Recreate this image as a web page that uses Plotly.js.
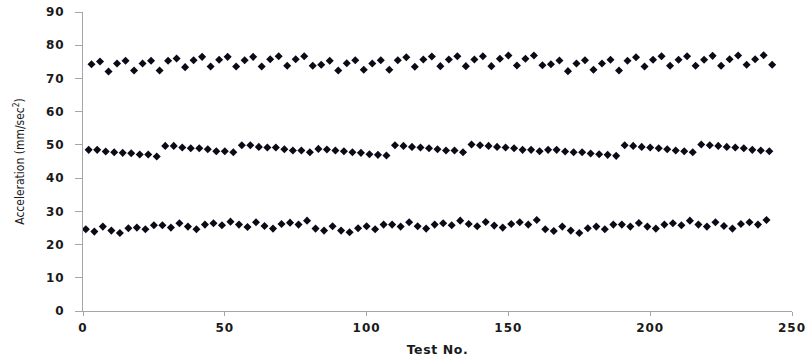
<!DOCTYPE html>
<html>
<head>
<meta charset="utf-8">
<script src="https://cdn.plot.ly/plotly-3.0.1.min.js"></script>
<style>
  html, body { margin: 0; padding: 0; background: #ffffff; }
  #chart { width: 806px; height: 359px; }
  /* wide, heavy tick numerals */
  #chart .xtick text, #chart .ytick text { letter-spacing: 1px; }
  #chart .xtitle { letter-spacing: 0.6px; }
</style>
</head>
<body>
<div id="chart"></div>
<script>
// Test numbers for each of the three interleaved measurement series
const testNoLow = [1,4,7,10,13,16,19,22,25,28,31,34,37,40,43,46,49,52,55,58,61,64,67,70,73,76,79,
  82,85,88,91,94,97,100,103,106,109,112,115,118,121,124,127,130,133,136,139,142,145,148,151,154,157,160,
  163,166,169,172,175,178,181,184,187,190,193,196,199,202,205,208,211,214,217,220,223,226,229,232,235,238,241];
const testNoMid = [2,5,8,11,14,17,20,23,26,29,32,35,38,41,44,47,50,53,56,59,62,65,68,71,74,77,80,
  83,86,89,92,95,98,101,104,107,110,113,116,119,122,125,128,131,134,137,140,143,146,149,152,155,158,161,
  164,167,170,173,176,179,182,185,188,191,194,197,200,203,206,209,212,215,218,221,224,227,230,233,236,239,242];
const testNoHigh = [3,6,9,12,15,18,21,24,27,30,33,36,39,42,45,48,51,54,57,60,63,66,69,72,75,78,81,
  84,87,90,93,96,99,102,105,108,111,114,117,120,123,126,129,132,135,138,141,144,147,150,153,156,159,162,
  165,168,171,174,177,180,183,186,189,192,195,198,201,204,207,210,213,216,219,222,225,228,231,234,237,240,243];

// Acceleration readings (mm/sec^2)
const accelLow = [
  24.6,23.9,25.4,24.2,23.5,24.9,25.1,24.6,25.8,25.8,25.1,26.4,25.4,24.6,26.0,26.4,25.8,26.9,26.0,25.3,26.7,25.6,24.8,26.2,26.6,26.0,27.2,
  24.8,24.2,25.5,24.2,23.7,24.9,25.5,24.6,26.0,26.0,25.4,26.7,25.5,24.8,26.0,26.4,25.8,27.2,26.2,25.5,26.8,25.7,25.1,26.2,26.7,26.0,27.4,
  24.6,24.1,25.4,24.2,23.5,24.9,25.4,24.6,26.0,26.0,25.4,26.5,25.4,24.8,26.0,26.4,25.8,27.2,26.0,25.4,26.7,25.6,24.8,26.2,26.7,26.0,27.4];
const accelMid = [
  48.5,48.5,48.0,47.8,47.6,47.5,47.1,47.1,46.5,49.7,49.7,49.2,49.0,49.0,48.7,48.1,48.1,47.8,49.9,49.9,49.4,49.2,49.2,48.7,48.3,48.3,47.8,
  48.8,48.6,48.3,48.1,47.8,47.6,47.2,47.0,46.8,49.9,49.7,49.4,49.2,49.0,48.7,48.3,48.3,47.8,50.1,49.9,49.7,49.4,49.2,49.0,48.5,48.5,48.1,
  48.5,48.5,48.0,47.8,47.8,47.4,47.2,47.0,46.7,49.9,49.7,49.4,49.2,49.0,48.7,48.3,48.1,47.8,50.1,49.9,49.7,49.4,49.2,49.0,48.5,48.3,48.1];
const accelHigh = [
  74.3,75.1,72.1,74.5,75.3,72.4,74.5,75.3,72.4,75.3,76.0,73.4,75.5,76.5,73.6,75.6,76.5,73.6,75.5,76.5,73.6,75.8,76.7,73.8,75.8,76.7,73.8,
  74.1,75.3,72.4,74.6,75.5,72.6,74.5,75.5,72.6,75.5,76.4,73.5,75.7,76.6,73.7,75.7,76.7,73.7,75.7,76.7,73.7,75.9,76.9,73.9,75.9,76.9,74.0,
  74.3,75.4,72.2,74.5,75.5,72.6,74.5,75.6,72.4,75.3,76.4,73.6,75.6,76.7,73.8,75.6,76.7,73.8,75.6,76.8,73.8,75.8,76.9,74.1,75.8,77.0,74.1];

const xTickVals = [0, 50, 100, 150, 200, 250];
const yTickVals = [0, 10, 20, 30, 40, 50, 60, 70, 80, 90];

const markerStyle = { symbol: 'diamond', size: 6.2, color: '#0b0b18', line: { width: 0 } };

function series(x, y) {
  return { x: x, y: y, type: 'scatter', mode: 'markers', marker: markerStyle, hoverinfo: 'x+y' };
}

const data = [
  series(testNoLow, accelLow),
  series(testNoMid, accelMid),
  series(testNoHigh, accelHigh)
];

const tickFont = { family: 'DejaVu Sans, Verdana, sans-serif', size: 12, color: '#1a1a1a', weight: 'bold' };

const layout = {
  width: 806,
  height: 359,
  margin: { l: 83, r: 14, t: 12, b: 48 },
  paper_bgcolor: '#ffffff',
  plot_bgcolor: '#ffffff',
  showlegend: false,
  xaxis: {
    range: [0, 250],
    tickvals: xTickVals,
    ticks: 'outside',
    ticklen: 4,
    tickcolor: '#a6a6a6',
    showline: true,
    linecolor: '#a6a6a6',
    linewidth: 1,
    showgrid: false,
    zeroline: false,
    tickfont: tickFont,
    ticklabelstandoff: 2,
    title: { text: '<b>Test No.</b>', font: { family: 'DejaVu Sans, Verdana, sans-serif', size: 12.5, color: '#1a1a1a' }, standoff: 10 }
  },
  yaxis: {
    range: [0, 90],
    tickvals: yTickVals,
    ticks: 'outside',
    ticklen: 7,
    tickcolor: '#a6a6a6',
    showline: true,
    linecolor: '#a6a6a6',
    linewidth: 1,
    showgrid: false,
    zeroline: false,
    tickfont: tickFont,
    ticklabelstandoff: 8,
    title: { text: 'Acceleration (mm/sec<sup>2</sup>)', font: { family: 'Liberation Sans Narrow, DejaVu Sans Condensed, sans-serif', size: 12, color: '#1a1a1a' }, standoff: 20 }
  }
};

Plotly.newPlot('chart', data, layout, { displayModeBar: false, staticPlot: true });
</script>
</body>
</html>
